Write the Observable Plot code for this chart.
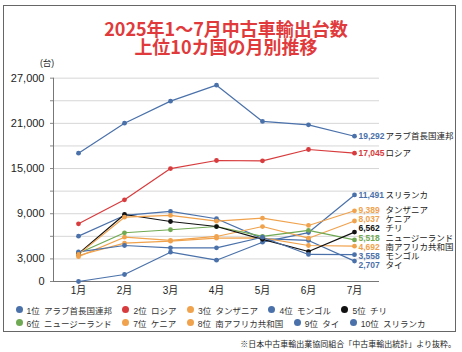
<!DOCTYPE html>
<html><head><meta charset="utf-8">
<script src="https://cdn.jsdelivr.net/npm/d3@7"></script>
<script src="https://cdn.jsdelivr.net/npm/@observablehq/plot@0.6"></script>
<style>
body{margin:0;background:#fff}
#wrap{position:relative;width:462px;height:352px;background:#fff;font-family:"Liberation Sans","Noto Sans CJK JP",sans-serif;color:#222;overflow:hidden}
#frame{position:absolute;left:3px;top:5px;width:453px;height:327px;border:1px solid #666;box-sizing:border-box}
#title{position:absolute;left:0;top:19px;width:452px;text-align:center;color:#e13a3c;font-weight:bold;font-size:18px;font-family:"Noto Sans CJK JP",sans-serif}
#title div{height:18px;line-height:18px}
#unit{position:absolute;left:40px;top:56px;font-size:8.5px}
#chart{position:absolute;left:0;top:60px}
#legend{position:absolute;left:15.5px;top:303px;font-size:8.5px;color:#333}
.row{display:flex;gap:10.5px;height:13px;align-items:center;white-space:nowrap}
.item{display:flex;align-items:center}
.dot{display:inline-block;width:7px;height:7px;border-radius:50%;margin-right:4px}
#caption{position:absolute;right:6px;top:338px;font-size:8px;color:#222;white-space:nowrap}
</style></head>
<body>
<div id="wrap">
  <div id="frame"></div>
  <div id="title"><div>2025年1～7月中古車輸出台数</div><div>上位10カ国の月別推移</div></div>
  <div id="unit">(台)</div>
  <div id="chart"></div>
  <div id="legend"></div>
  <div id="caption">※日本中古車輸出業協同組合「中古車輸出統計」より抜粋。</div>
</div>
<script>
const months = ["1月","2月","3月","4月","5月","6月","7月"];
const countries = ["アラブ首長国連邦","ロシア","タンザニア","モンゴル","チリ","ニュージーランド","ケニア","南アフリカ共和国","タイ","スリランカ"];
const ranks = ["1位","2位","3位","4位","5位","6位","7位","8位","9位","10位"];
const uae      = [17040, 21020, 23950, 26070, 21250, 20800, 19292];
const russia   = [7660, 10850, 15000, 16070, 16020, 17530, 17045];
const tanzania = [3600, 8540, 8770, 8010, 8410, 7440, 9389];
const mongolia = [3940, 4780, 4470, 4470, 5880, 3590, 3558];
const chile    = [3700, 8900, 7970, 7300, 5600, 3980, 6562];
const nz       = [3750, 6470, 6870, 7300, 6000, 6800, 5518];
const kenya    = [3300, 5880, 5450, 5980, 7300, 5750, 8037];
const southAfrica = [3450, 5090, 5350, 5750, 5800, 4780, 4692];
const thai     = [6020, 8770, 9300, 8330, 5700, 5450, 2707];
const sriLanka = [0, 930, 3890, 2830, 5220, 6500, 11491];
const yTicks = [0, 3000, 6000, 9000, 12000, 15000, 18000, 21000, 24000, 27000];
const yTickLabels = [0, 3000, 9000, 15000, 21000, 27000];

const seriesValues = [uae, russia, tanzania, mongolia, chile, nz, kenya, southAfrica, thai, sriLanka];
const BLUE = "#4a71aa", RED = "#d83b3d", ORANGE = "#f0a24c", GREEN = "#70a953", BLACK = "#111";
const palette = [BLUE, RED, ORANGE, BLUE, BLACK, GREEN, ORANGE, ORANGE, BLUE, BLUE];

const rows = [];
for (let i = countries.length - 1; i >= 0; i--) {
  months.forEach((m, j) => rows.push({country: countries[i], month: m, value: seriesValues[i][j]}));
}
const fmt = d3.format(",");

// label dodge (isotonic-style block merge) in data units
function dodge(vals, G) {
  const idx = d3.range(vals.length).sort((a, b) => vals[a] - vals[b]);
  const blocks = [];
  const start = b => d3.mean(b.items, (it, k) => vals[it] - k * G);
  for (const i of idx) {
    blocks.push({items: [i]});
    while (blocks.length > 1) {
      const b = blocks[blocks.length - 1], a = blocks[blocks.length - 2];
      const aTop = start(a) + (a.items.length - 1) * G;
      if (start(b) - aTop < G) { a.items = a.items.concat(b.items); blocks.pop(); } else break;
    }
  }
  const out = new Array(vals.length);
  for (const b of blocks) { const s = start(b); b.items.forEach((it, k) => out[it] = s + k * G); }
  return out;
}
const lastVals = seriesValues.map(v => v[v.length - 1]);
const labelY = dodge(lastVals, 1230);
const lastRows = countries.map((c, i) => ({country: c, month: months[months.length - 1], value: lastVals[i], ly: labelY[i]}));

const font = '"Liberation Sans","Noto Sans CJK JP",sans-serif';
const chart = Plot.plot({
  width: 462, height: 240,
  marginLeft: 53, marginRight: 83, marginTop: 17.67, marginBottom: 19,
  style: {fontFamily: font, background: "transparent", overflow: "visible", color: "#222"},
  x: {type: "point", domain: months, padding: 0.5, label: null},
  y: {domain: [0, 27000], label: null},
  color: {domain: countries, range: palette},
  marks: [
    Plot.gridY(yTicks, {stroke: "#d6d6d6", strokeOpacity: 1}),
    Plot.axisY({ticks: yTicks, tickSize: 3, tickPadding: 6, label: null, fontSize: 11,
      tickFormat: d => yTickLabels.includes(d) ? fmt(d) : "", stroke: "#888", fill: "#222"}),
    Plot.axisX({tickSize: 0, tickPadding: 5, label: null, fontSize: 10, fill: "#222"}),
    Plot.ruleY([0], {stroke: "#777"}),
    Plot.frame({anchor: "left", stroke: "#777"}),
    Plot.line(rows, {x: "month", y: "value", z: "country", stroke: "country", strokeWidth: 1.2}),
    Plot.dot(rows, {x: "month", y: "value", fill: "country", r: 2.4}),
    Plot.text(lastRows, {x: "month", y: "ly", text: d => fmt(d.value), fill: "country",
      textAnchor: "start", dx: 4, fontWeight: "bold", fontSize: 8.5}),
    Plot.text(lastRows, {x: "month", y: "ly", text: "country", fill: "#222",
      textAnchor: "start", dx: 31, fontSize: 8.5})
  ]
});
document.getElementById("chart").appendChild(chart);

// legend
const legend = document.getElementById("legend");
[[0,1,2,3,4],[5,6,7,8,9]].forEach(r => {
  const row = document.createElement("div"); row.className = "row";
  r.forEach(i => {
    const it = document.createElement("div"); it.className = "item";
    const dot = document.createElement("span"); dot.className = "dot"; dot.style.background = palette[i];
    const tx = document.createElement("span"); tx.textContent = ranks[i] + "\u2002" + countries[i];
    it.appendChild(dot); it.appendChild(tx); row.appendChild(it);
  });
  legend.appendChild(row);
});
</script>
</body></html>
